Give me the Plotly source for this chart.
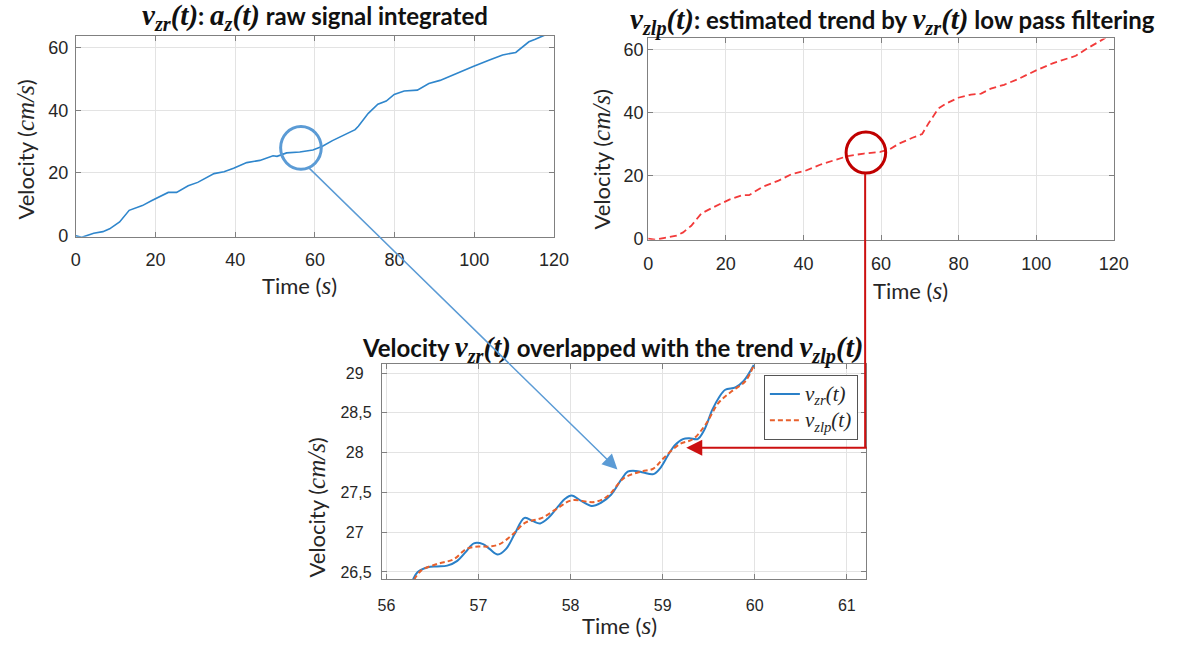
import plotly.graph_objects as go

# ---------------- data ----------------
# top-left: v_zr(t), raw signal integrated
t_raw = [0, 1.5, 4.5, 6.8, 8.5, 11, 13.4, 16.7, 19.1, 23.2, 25.3, 28.2, 30.6, 34.7, 37.2,
         39.6, 42.9, 46.2, 49.5, 50.5, 52.9, 56.2, 59.5, 61.9, 64.4, 66.8, 70.1, 70.9, 73.4,
         75.8, 77.9, 79.9, 82.4, 85.7, 88.6, 91.4, 95.5, 99.7, 103.8, 107.1, 110.4, 113.7,
         115.3, 117.6]
v_raw = [0, -0.5, 0.8, 1.3, 2.2, 4.4, 8.1, 9.6, 11.2, 13.8, 13.8, 15.9, 17.0, 19.8, 20.4,
         21.5, 23.3, 24.0, 25.5, 25.3, 26.4, 26.7, 27.3, 28.5, 30.3, 31.7, 33.8, 34.9, 39.0,
         41.9, 42.9, 45.0, 46.1, 46.4, 48.5, 49.5, 51.8, 53.9, 56.0, 57.6, 58.4, 61.8,
         62.6, 63.9]

# top-right: v_zlp(t), low pass trend
t_lp = [0, 2, 7.3, 9, 11.1, 13.7, 16.7, 20.9, 24.3, 26, 29.4, 33.6, 37, 40.4, 44.6, 48.9,
        51.4, 55.6, 59.8, 62.3, 64.7, 68.1, 70.6, 72.3, 74.8, 77, 79.9, 83.2, 85.8, 88.3,
        91.7, 95.1, 100.2, 104.4, 110.2, 112.8, 117.9]
v_lp = [0, -0.3, 1.0, 2.0, 4.1, 8.0, 9.9, 12.4, 13.8, 13.8, 16.4, 18.4, 20.5, 21.5, 23.6,
        25.2, 26.2, 27.0, 27.5, 28.4, 30.2, 32.0, 33.2, 36.7, 41.3, 43.0, 44.7, 45.7, 46.0,
        47.6, 48.8, 50.5, 53.5, 55.7, 58.0, 60.1, 63.7]

# bottom: zoom 56..61 s
t_zr = [56.29, 56.34, 56.45, 56.55, 56.66, 56.77, 56.86, 56.95, 57.05, 57.12, 57.21, 57.30,
        57.39, 57.50, 57.59, 57.67, 57.76, 57.87, 57.94, 58.01, 58.12, 58.23, 58.33, 58.44,
        58.55, 58.62, 58.71, 58.79, 58.90, 58.97, 59.06, 59.13, 59.22, 59.29, 59.38, 59.45,
        59.54, 59.61, 59.68, 59.79, 59.88, 59.99]
v_zr = [26.41, 26.50, 26.56, 26.57, 26.58, 26.64, 26.75, 26.86, 26.85, 26.79, 26.72, 26.79,
        26.97, 27.18, 27.14, 27.11, 27.18, 27.33, 27.42, 27.46, 27.39, 27.33, 27.37, 27.47,
        27.66, 27.76, 27.77, 27.75, 27.73, 27.80, 27.97, 28.09, 28.17, 28.18, 28.17, 28.28,
        28.54, 28.69, 28.79, 28.82, 28.90, 29.10]
t_zlp = [56.30, 56.38, 56.55, 56.73, 56.87, 57.00, 57.12, 57.23, 57.37, 57.51, 57.69, 57.87,
         58.01, 58.26, 58.40, 58.58, 58.76, 58.90, 59.01, 59.19, 59.33, 59.47, 59.61, 59.75,
         59.90, 59.99]
v_zlp = [26.40, 26.52, 26.60, 26.66, 26.79, 26.82, 26.82, 26.85, 26.97, 27.12, 27.18, 27.31,
         27.40, 27.38, 27.45, 27.68, 27.76, 27.80, 27.93, 28.11, 28.17, 28.36, 28.63, 28.77,
         28.90, 29.10]

top_xticks = [0, 20, 40, 60, 80, 100, 120]
top_yticks = [0, 20, 40, 60]
bot_xticks = [56, 57, 58, 59, 60, 61]
bot_yticks = [26.5, 27, 27.5, 28, 28.5, 29]
bot_yticktext = ["26,5", "27\u2002", "27,5", "28\u2002", "28,5", "29\u2002"]

# ---------------- layout helpers ----------------
W, H = 1178, 649
SANS = "Lato"
SERIF = "Liberation Serif"
TICKF = dict(family="Liberation Sans", size=18, color="#262626")
TICKF3 = dict(family="Liberation Sans", size=16, color="#262626")


def px(x):
    return x / W


def py(y):
    return 1 - y / H


def m(s, size, bold=False):
    st = f"font-family:{SERIF};font-style:italic;font-size:{size}px"
    if bold:
        st += ";font-weight:bold"
    return f'<span style="{st}">{s}</span>'


def var(name, subs, size, bold=False, arg="t"):
    # v_{sub}(t) in math italic
    st = f"font-family:{SERIF};font-style:italic;font-size:{size}px"
    if bold:
        st += ";font-weight:bold"
    return f'<span style="{st}">{name}<sub>{subs}</sub>({arg})</span>'


def axis(domain, rng, tickvals, ticktext=None, tickfont=TICKF, standoff=0):
    d = dict(domain=domain, range=rng, tickvals=tickvals, showgrid=True,
             gridcolor="#e3e3e3", gridwidth=1, showline=True, linecolor="#808080",
             linewidth=1, mirror="ticks", ticks="inside", ticklen=5, tickcolor="#808080",
             tickfont=tickfont, zeroline=False, ticklabelstandoff=standoff)
    if ticktext is not None:
        d["ticktext"] = ticktext
    return d


fig = go.Figure()
fig.add_trace(go.Scatter(x=t_raw, y=v_raw, mode="lines", xaxis="x", yaxis="y",
                         line=dict(color="#2f86cc", width=1.6), showlegend=False))
fig.add_trace(go.Scatter(x=t_lp, y=v_lp, mode="lines", xaxis="x2", yaxis="y2",
                         line=dict(color="#f23a3a", width=1.8, dash="7px,4px"),
                         showlegend=False))
fig.add_trace(go.Scatter(x=t_zr, y=v_zr, mode="lines", xaxis="x3", yaxis="y3",
                         line=dict(color="#2a80c8", width=2, shape="spline"),
                         name=var("v", "zr", 21)))
fig.add_trace(go.Scatter(x=t_zlp, y=v_zlp, mode="lines", xaxis="x3", yaxis="y3",
                         line=dict(color="#e8602c", width=2, dash="5px,3px", shape="spline"),
                         name=var("v", "zlp", 21)))

fig.update_layout(
    width=W, height=H, margin=dict(l=0, r=0, t=0, b=0),
    paper_bgcolor="white", plot_bgcolor="white",
    xaxis=axis([px(72), px(558.5)], [0, 120], top_xticks, standoff=7),
    yaxis=axis([py(240), py(36)], [-0.3, 63.8], top_yticks, standoff=3),
    xaxis2=dict(axis([px(654.3), px(1128)], [0, 120], top_xticks, standoff=8), anchor="y2"),
    yaxis2=dict(axis([py(243), py(39)], [-0.3, 63.5], top_yticks, standoff=0), anchor="x2"),
    xaxis3=dict(axis([px(383.3), px(876)], [55.95, 61.21], bot_xticks, tickfont=TICKF3,
                     standoff=12), anchor="y3"),
    yaxis3=dict(axis([py(587.3), py(369)], [26.41, 29.115], bot_yticks, bot_yticktext,
                     tickfont=TICKF3, standoff=6), anchor="x3"),
    legend=dict(x=px(772), y=py(380), xanchor="left", yanchor="top",
                bgcolor="white", bordercolor="#555555", borderwidth=1,
                font=dict(family=SERIF, size=18, color="#262626"),
                tracegroupgap=0, itemwidth=30),
    showlegend=True,
)

ann = []
TS = 24   # title sans size
TM = 29   # title math size
TITLE_F = dict(family=SANS, size=TS, color="#111111")
ann.append(dict(x=px(315.5), y=py(17),
                text="<b>" + var("v", "zr", TM, True) + ": " + var("a", "z", TM, True) +
                " raw signal integrated</b>", font=TITLE_F))
ann.append(dict(x=px(903), y=py(22),
                text="<b>" + var("v", "zlp", TM, True) + ": estimated trend by " +
                var("v", "zr", TM, True) + " low pass filtering</b>", font=TITLE_F))
ann.append(dict(x=px(618.5), y=py(354),
                text="<b>Velocity " + var("v", "zr", TM, True) + " overlapped with the trend " +
                var("v", "zlp", TM, True) + "</b>", font=TITLE_F))

AX_F = dict(family=SANS, size=22, color="#262626")
vel = "Velocity (" + m("cm/s", 25) + ")"
tim = "Time (" + m("s", 25) + ")"
ann += [
    dict(x=px(21), y=py(152), text=vel, textangle=-90, font=AX_F),
    dict(x=px(300), y=py(290), text=tim, font=AX_F),
    dict(x=px(607), y=py(162), text=vel, textangle=-90, font=AX_F),
    dict(x=px(921), y=py(295), text=tim, font=AX_F),
    dict(x=px(317), y=py(515), text=vel, textangle=-90, font=AX_F),
    dict(x=px(625), y=py(634), text=tim, font=AX_F),
]
for a in ann:
    a.update(xref="paper", yref="paper", showarrow=False, xanchor="center", yanchor="middle")

# blue arrow from circle to zoomed plot
ann.append(dict(x=px(623), y=py(476), xref="paper", yref="paper", showarrow=True,
                ax=313 - 623, ay=173 - 476, axref="pixel", ayref="pixel",
                arrowhead=2, arrowsize=2, arrowwidth=1.5, arrowcolor="#5b9bd5", text=""))
# red arrow (horizontal part)
ann.append(dict(x=px(693), y=py(454), xref="paper", yref="paper", showarrow=True,
                ax=875 - 693, ay=0, axref="pixel", ayref="pixel",
                arrowhead=2, arrowsize=1.6, arrowwidth=2, arrowcolor="#cc1010", text=""))
fig.update_layout(annotations=ann)

shapes = [
    dict(type="circle", xref="x", yref="y", x0=51.4, x1=61.6, y0=21.2, y1=34.8,
         line=dict(color="#5b9bd5", width=3)),
    dict(type="circle", xref="x2", yref="y2", x0=51.0, x1=61.2, y0=20.8, y1=33.8,
         line=dict(color="#c00000", width=3)),
    dict(type="line", xref="paper", yref="paper", x0=px(875), x1=px(875), y0=py(176),
         y1=py(454), line=dict(color="#cc1010", width=2)),
]
fig.update_layout(shapes=shapes)

fig.write_html("out.html")
